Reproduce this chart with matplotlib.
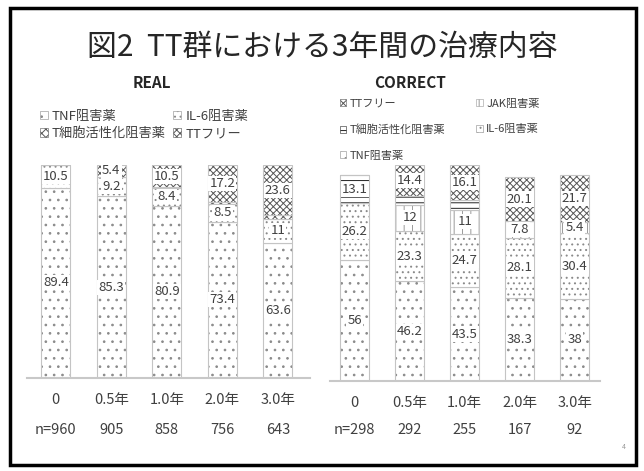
import matplotlib
matplotlib.use('Agg')
import matplotlib.pyplot as plt
import matplotlib.transforms as mtransforms
from matplotlib.patches import Patch, Rectangle
import numpy as np

plt.rcParams['font.family'] = ['Noto Sans CJK JP', 'DejaVu Sans']
plt.rcParams['hatch.linewidth'] = 0.7

categories = ['0', '0.5年', '1.0年', '2.0年', '3.0年']
real_n = ['n=960', '905', '858', '756', '643']
correct_n = ['n=298', '292', '255', '167', '92']

# REAL（下から積み上げ）
real_tnf = [89.4, 85.3, 80.9, 73.4, 63.6]
real_il6 = [10.5, 9.2, 8.4, 8.5, 11.0]
real_tcell = [0, 0, 0.2, 0.9, 1.8]
real_free = [0, 5.4, 10.5, 17.2, 23.6]

# CORRECT（下から積み上げ）
correct_tnf = [56, 46.2, 43.5, 38.3, 38]
correct_il6 = [26.2, 23.3, 24.7, 28.1, 30.4]
correct_jak = [0, 12, 11, 7.8, 5.4]
correct_tcell = [13.1, 4.1, 4.7, 0, 0]
correct_free = [0, 14.4, 16.1, 20.1, 21.7]

TXT = '#404040'

fig = plt.figure(figsize=(6.44, 4.71), dpi=100)
ax1 = fig.add_axes([27 / 644, 1 - 378 / 471, 283 / 644, 213 / 471])
ax2 = fig.add_axes([330 / 644, 1 - 381 / 471, 270 / 644, 216 / 471])


def draw_stack(ax, series, styles, xlim):
    x = np.arange(len(categories))
    bottom = np.zeros(len(categories))
    for vals, (hatch, hc) in zip(series, styles):
        vals = np.array(vals, dtype=float)
        ax.bar(x, vals, 0.52, bottom=bottom, color='white', edgecolor=hc,
               hatch=hatch, linewidth=0)
        ax.bar(x, vals, 0.52, bottom=bottom, fill=False, edgecolor='#c4c4c4',
               linewidth=0.8)
        for xi, v, b in zip(x, vals, bottom):
            if v >= 5:
                ax.text(xi, b + v / 2, f'{v:g}', ha='center', va='center',
                        fontsize=9.5, color=TXT,
                        bbox=dict(fc='white', ec='none', pad=0.8))
        bottom += vals
    ax.set_xlim(*xlim)
    ax.set_ylim(0, 100)
    ax.set_yticks([])
    for s in ['left', 'right', 'top']:
        ax.spines[s].set_visible(False)
    ax.spines['bottom'].set_color('#c8c8c8')
    ax.spines['bottom'].set_linewidth(1.5)
    ax.set_xticks(x)
    ax.set_xticklabels(categories, fontsize=10.5, color=TXT)
    ax.tick_params(axis='x', length=0, pad=11)


real_styles = [('..', '#8a8a8a'), ('...', '#8a8a8a'), ('xxxx', '#555555'), ('xxxxx', '#555555')]
correct_styles = [('..', '#8a8a8a'), ('...', '#8a8a8a'), ('||', '#9a9a9a'),
                  ('---', '#222222'), ('xxxxx', '#555555')]

draw_stack(ax1, [real_tnf, real_il6, real_tcell, real_free], real_styles, (-0.52, 4.58))
draw_stack(ax2, [correct_tnf, correct_il6, correct_jak, correct_tcell, correct_free],
           correct_styles, (-0.45, 4.46))

# n= 行
for ax, ns in ((ax1, real_n), (ax2, correct_n)):
    tr = mtransforms.blended_transform_factory(ax.transData, fig.transFigure)
    for i, t in enumerate(ns):
        ax.text(i, 1 - 430 / 471, t, transform=tr, ha='center', va='center',
                fontsize=10.5, color=TXT)

# 凡例
def handle(style):
    return Patch(facecolor='white', edgecolor=style[1], hatch=style[0], linewidth=0.4)

h = [handle(s) for s in real_styles]
fig.legend([h[0], h[2], h[1], h[3]],
           ['TNF阻害薬', 'T細胞活性化阻害薬', 'IL-6阻害薬', 'TTフリー'],
           loc='upper left', bbox_to_anchor=(33 / 644, 1 - 103 / 471), ncol=2,
           fontsize=9.5, frameon=False, handlelength=0.6, handleheight=0.6,
           handletextpad=0.3, columnspacing=0.6, labelspacing=0.35, borderpad=0,
           labelcolor=TXT)

h = [handle(s) for s in correct_styles]
fig.legend([h[4], h[3], h[0], h[2], h[1]],
           ['TTフリー', 'T細胞活性化阻害薬', 'TNF阻害薬', 'JAK阻害薬', 'IL-6阻害薬'],
           loc='upper left', bbox_to_anchor=(334 / 644, 1 - 93 / 471), ncol=2,
           fontsize=8, frameon=False, handlelength=0.6, handleheight=0.6,
           handletextpad=0.3, columnspacing=2.8, labelspacing=1.4, borderpad=0,
           labelcolor=TXT)

fig.text(0.5, 1 - 47 / 471, '図2  TT群における3年間の治療内容', ha='center', va='center',
         fontsize=21.5, color='#262626')
fig.text(152 / 644, 1 - 83 / 471, 'REAL', ha='center', va='center', fontsize=11,
         fontweight='bold', color='#262626')
fig.text(410 / 644, 1 - 83 / 471, 'CORRECT', ha='center', va='center', fontsize=11,
         fontweight='bold', color='#262626')
fig.text(624 / 644, 1 - 447 / 471, '4', ha='center', va='center', fontsize=5, color='#999999')

fig.patches.append(Rectangle((10 / 644, 1 - 465 / 471), 626 / 644, 457 / 471,
                             transform=fig.transFigure, fill=False, lw=2.5, ec='black'))

fig.savefig('out.png', dpi=100)
